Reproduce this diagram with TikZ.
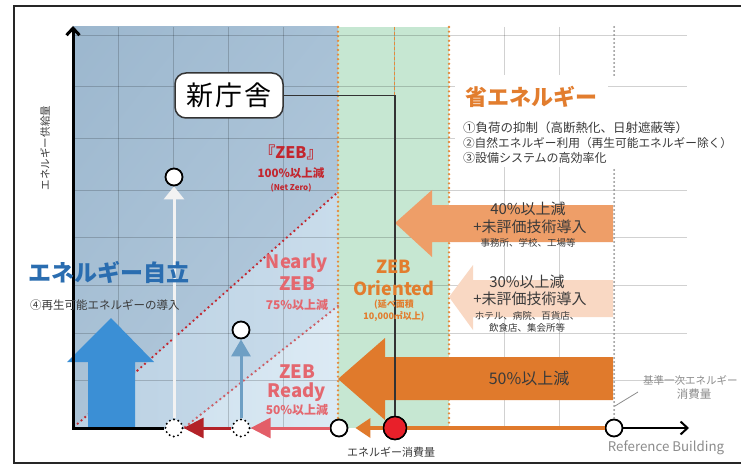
\documentclass[tikz,border=0pt]{standalone}
\usepackage{fontspec}
\setmainfont{Noto Sans CJK JP}
\usetikzlibrary{arrows.meta,shadings}
\definecolor{bgA1}{HTML}{9CB7CE}
\definecolor{bgA2}{HTML}{A8C1D6}
\definecolor{bgA3}{HTML}{ABC3D7}
\definecolor{bgA4}{HTML}{B8CDDF}
\definecolor{bandB1}{HTML}{BBD1E3}
\definecolor{bandB2}{HTML}{C9DCEB}
\definecolor{bandC1}{HTML}{D0E2EF}
\definecolor{bandC2}{HTML}{DCEAF4}
\definecolor{greenbg}{HTML}{C6E7D2}
\definecolor{orD}{HTML}{E07A2C}
\definecolor{orM}{HTML}{EE9E68}
\definecolor{orL}{HTML}{F9D8C3}
\definecolor{zebred}{HTML}{C3262E}
\definecolor{zebpink}{HTML}{E4676F}
\definecolor{ortext}{HTML}{E27D2E}
\definecolor{bluetext}{HTML}{2A6DB0}
\definecolor{bigblue}{HTML}{3B8FD5}
\definecolor{smallblue}{HTML}{6E9FC4}
\definecolor{darkred}{HTML}{B32228}
\definecolor{salmon}{HTML}{E35E68}
\definecolor{redball}{HTML}{E8202A}
\definecolor{txt}{HTML}{3A3A3A}
\definecolor{graytxt}{HTML}{8C8C8C}
\definecolor{dotor}{HTML}{E58A3C}
\newcommand{\myfs}[1]{\fontsize{#1}{#1}\selectfont}
\begin{document}
\begin{tikzpicture}[x=1pt,y=-1pt,
  lbl/.style={inner sep=0pt, outer sep=0pt},
  circ/.style={circle, draw=black, fill=white, line width=1.8pt, minimum size=17pt, inner sep=0pt},
  dcirc/.style={circle, draw=black, fill=white, line width=2.2pt, minimum size=17pt, inner sep=0pt, dash pattern=on 0pt off 4.4pt, line cap=round},
  redcirc/.style={circle, draw=black, fill=redball, line width=1.5pt, minimum size=23pt, inner sep=0pt},
  reddot/.style={line width=2.6pt, dash pattern=on 0pt off 5pt, line cap=round},
  ordot/.style={dotor, line width=2.6pt, dash pattern=on 0pt off 4.6pt, line cap=round},
  graydot/.style={graytxt, line width=2pt, dash pattern=on 0pt off 4pt, line cap=round},
  gridl/.style={black, opacity=0.18, line width=0.8pt},
  axisline/.style={black, line width=3pt},
  barb/.style={-{Straight Barb[length=7pt,width=13pt]}},
]
\useasboundingbox (0,0) rectangle (741,465);
\clip (0,0) rectangle (741,465);
\fill[white] (0,0) rectangle (741,465);
% backgrounds
\shade[upper left=bgA1, upper right=bgA2, lower left=bgA3, lower right=bgA4] (73,27) rectangle (338,428);
\shade[left color=bandB1, right color=bandB2] (74,428) -- (338,192) -- (338,306) -- (185,428) -- cycle;
\shade[left color=bandC1, right color=bandC2] (185,428) -- (338,306) -- (338,428) -- cycle;
\fill[greenbg] (338,27) rectangle (449,428);
% grid
\foreach \gx in {118,173.2,228.4,283.6,394,504.4,559.6}
  \draw[gridl] (\gx,27) -- (\gx,428);
\foreach \gy in {35,86,138,190,237,285,333,380}
  \draw[gridl] (73,\gy) -- (687,\gy);
\fill[white] (455,75) rectangle (608,167);
% dotted lines
\draw[reddot, zebred] (74,427) -- (338,192);
\draw[reddot, zebpink!90!black] (185,427) -- (338,306);
\draw[dotor, line width=0.8pt, dash pattern=on 3pt off 2pt] (394,27) -- (394,428);
\draw[ordot] (338,27) -- (338,428);
\draw[ordot] (449,27) -- (449,428);
% big arrows
\fill[bigblue] (88,428) -- (88,362) -- (67,362) -- (111,318) -- (154,362) -- (135,362) -- (135,428) -- cycle;
\fill[orD] (338,379) -- (385,338) -- (385,357) -- (613,357) -- (613,400) -- (385,400) -- (385,420) -- cycle;
\fill[orM] (395,223) -- (432,190) -- (432,205) -- (613,205) -- (613,242) -- (432,242) -- (432,257) -- cycle;
\fill[orL] (449,297) -- (473,265) -- (473,280) -- (613,280) -- (613,317) -- (473,317) -- (473,330) -- cycle;
% nodes on axis
\coordinate (O) at (73,428);
\coordinate (Ytop) at (73,26);
\coordinate (Xend) at (689,428);
\coordinate (G1) at (614,27);
\coordinate (G2) at (614,75);
\coordinate (G3) at (614,170);
\coordinate (L1) at (638,392);
\coordinate (L2) at (615,406);
\node[circ] (cref) at (614,428) {};
\draw[graydot] (G1) -- (G2);
\draw[graydot] (G3) -- (cref.north);
\draw[graytxt, line width=0.8pt] (L1) -- (L2);
\node[dcirc] (c1) at (174,428) {};
\node[dcirc] (c2) at (241,428) {};
\node[circ] (c3) at (339,428) {};
\node[redcirc] (cr) at (395,428) {};
\node[circ] (ctop) at (174,177) {};
\node[circ] (cmid) at (241,330) {};
\draw[axisline, barb] (c1) -- (O) -- (Ytop);
\draw[axisline, line width=2pt, barb] (cref) -- (Xend);
\draw[orD, line width=3.5pt] (cref) -- (cr);
\draw[orD, line width=3.5pt, -{Triangle[length=15pt,width=19pt]}, shorten >=7pt] (cr) -- (c3);
\draw[salmon, line width=3pt, -{Triangle[length=20pt,width=20pt]}] (c3) -- (c2);
\draw[darkred, line width=3pt, -{Triangle[length=20pt,width=20pt]}] (c2) -- (c1);
\draw[white!95!black, line width=3pt, -{Triangle[length=13pt,width=20pt]}] (c1) -- (ctop);
\draw[smallblue, line width=3pt, -{Triangle[length=17pt,width=19pt]}] (c2) -- (cmid);
% callout
\node[draw=black!80, fill=white, rounded corners=11pt, line width=1.5pt, minimum width=108pt, minimum height=45pt, inner sep=0pt] (shin) at (229,95.5) {\myfs{27}新\kern2pt 庁\kern2pt 舎};
\draw[black!80, line width=1.5pt] (shin.east) -| (cr.north);
\node[redcirc] (cr2) at (cr) {};
% ZEB labels
\node[lbl, zebred, font=\bfseries] (tzeb) at (291,152) {\myfs{16}『ZEB』};
\node[lbl, zebred, font=\bfseries] (t100) at (291,173) {\myfs{11.5}100\%以上減};
\node[lbl, zebred, font=\bfseries] (tnz) at (291,188) {\myfs{8}(Net Zero)};
\node[lbl, zebpink, font=\bfseries] (tnear) at (297,263) {\myfs{18.5}Nearly};
\node[lbl, zebpink, font=\bfseries] (tnzeb) at (297,284) {\myfs{18.5}ZEB};
\node[lbl, zebpink, font=\bfseries] (t75) at (297,305) {\myfs{12}75\%以上減};
\node[lbl, zebpink, font=\bfseries] (trz) at (297,372) {\myfs{18.5}ZEB};
\node[lbl, zebpink, font=\bfseries] (trr) at (297,392) {\myfs{18.5}Ready};
\node[lbl, zebpink, font=\bfseries] (t50p) at (297,410) {\myfs{12}50\%以上減};
\node[lbl, ortext, font=\bfseries] (toz) at (394,267) {\myfs{18}ZEB};
\node[lbl, ortext, font=\bfseries] (toor) at (394,288) {\myfs{18}Oriented};
\node[lbl, ortext, font=\bfseries] (tob1) at (394,305) {\myfs{9}(延べ面積};
\node[lbl, ortext, font=\bfseries] (tob2) at (394,317) {\myfs{9}10,000㎡以上)};
% right texts
\node[lbl, ortext, font=\bfseries, anchor=west] (tsho) at (465,97) {\myfs{22}省エネルギー};
\node[lbl, txt, anchor=west] (tl1) at (463,128) {\myfs{12.5}①負荷の抑制（高断熱化、日射遮蔽等）};
\node[lbl, txt, anchor=west, fill=white] (tl2) at (463,143) {\myfs{11.7}②自然エネルギー利用（再生可能エネルギー除く）};
\node[lbl, txt, anchor=west] (tl3) at (463,158) {\myfs{12}③設備システムの高効率化};
\node[lbl, txt] (t40) at (528,209) {\myfs{15}40\%以上減};
\node[lbl, txt] (t40b) at (530,227) {\myfs{15}+未評価技術導入};
\node[lbl, txt] (t40c) at (528,243) {\myfs{9.5}事務所、学校、工場等};
\node[lbl, txt] (t30) at (527,282) {\myfs{15}30\%以上減};
\node[lbl, txt] (t30b) at (530,299) {\myfs{15}+未評価技術導入};
\node[lbl, txt] (t30c) at (527,316) {\myfs{9.5}ホテル、病院、百貨店、};
\node[lbl, txt] (t30d) at (527,328) {\myfs{9.5}飲食店、集会所等};
\node[lbl, txt] (t50) at (529,378) {\myfs{16}50\%以上減};
\node[lbl, bluetext, font=\bfseries, anchor=west] (tjiritsu) at (28,272) {\myfs{23}エネルギー自立};
\node[lbl, txt, anchor=west] (tsaisei) at (30,305) {\myfs{11.5}④再生可能エネルギーの導入};
\node[lbl, txt, rotate=90] (tyax) at (45,148) {\myfs{10.5}エネルギー供給量};
\node[lbl, txt] (txax) at (391,452) {\myfs{11}エネルギー消費量};
\node[lbl, graytxt] (tref) at (666,448) {\myfs{13.3}Reference Building};
\node[lbl, graytxt, anchor=west] (tkijun) at (643,380) {\myfs{10.5}基準一次エネルギー};
\node[lbl, graytxt] (tshohi) at (694,394) {\myfs{11.5}消費量};
% frame
\draw[black!85, line width=2pt] (760,6) -- (14,6) -- (14,463) -- (760,463);
\end{tikzpicture}
\end{document}
